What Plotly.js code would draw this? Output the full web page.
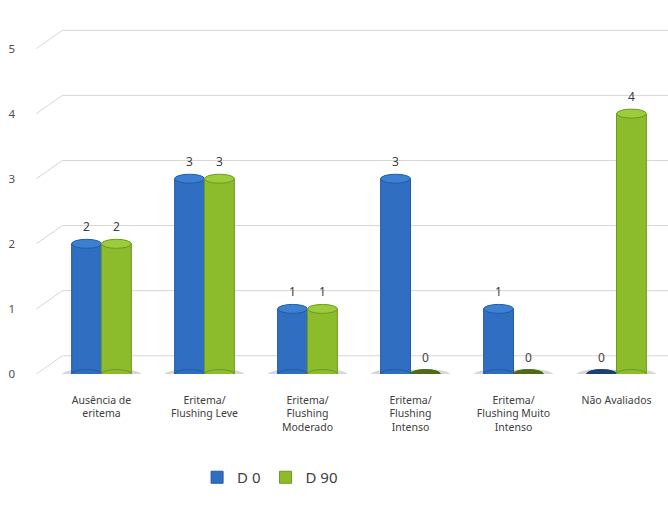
<!DOCTYPE html>
<html>
<head>
<meta charset="utf-8">
<script src="https://cdn.plot.ly/plotly-3.0.1.min.js"></script>
<style>html,body{margin:0;padding:0;background:#fff;}#chart{width:668px;height:507px;}</style>
</head>
<body>
<div id="chart"></div>
<script>
const categories = ['Ausência de<br>eritema', 'Eritema/<br>Flushing Leve', 'Eritema/<br>Flushing<br>Moderado', 'Eritema/<br>Flushing<br>Intenso', 'Eritema/<br>Flushing Muito<br>Intenso', 'Não Avaliados'];
const seriesNames = ['D 0', 'D 90'];
const d0 = [2, 3, 1, 3, 1, 0];
const d90 = [2, 3, 1, 0, 0, 4];
const yTicks = [0, 1, 2, 3, 4, 5];

const series = [d0, d90];
const barColors = ['#2F6EC0', '#8CBB2C'];
const lineColors = ['#245AA2', '#6E9A1C'];
const capColors = ['#3D80D2', '#9CCB3C'];
const zeroCapColors = ['#1E3F72', '#4F6A17'];

const bargap = 0.42;
const barW = (1 - bargap) / 2;
const offsets = [-barW / 2, barW / 2];

const traces = series.map((vals, s) => ({
  type: 'bar',
  name: seriesNames[s],
  x: categories,
  y: vals,
  marker: {color: barColors[s], line: {color: lineColors[s], width: 1}},
  hoverinfo: 'skip'
}));

const shapes = [];
// 3D-style gridlines (back wall offset)
const backOff = 0.28;
yTicks.forEach(v => {
  shapes.push({
    type: 'path', xref: 'paper', yref: 'y', layer: 'below',
    path: `M -0.022,${v} L 0.02,${v + backOff} L 1,${v + backOff}`,
    line: {color: '#d6d6d6', width: 1}
  });
});
// floor front edge
shapes.push({type: 'line', xref: 'paper', yref: 'y', layer: 'below', x0: -0.02, x1: 1, y0: -0.06, y1: -0.06, line: {color: '#e2e2e2', width: 1}});

const annotations = [];
series.forEach((vals, s) => {
  vals.forEach((v, i) => {
    const xc = i + offsets[s];
    // shadow on floor
    shapes.push({type: 'circle', xref: 'x', yref: 'y', layer: 'below',
      x0: xc - barW * 0.85, x1: xc + barW * 0.85,
      ysizemode: 'pixel', yanchor: 0, y0: -7, y1: 5,
      fillcolor: 'rgba(110,110,110,0.28)', line: {width: 0}});
    // bottom ellipse
    if (v > 0) {
      shapes.push({type: 'circle', xref: 'x', yref: 'y', layer: 'above',
        x0: xc - barW / 2, x1: xc + barW / 2,
        ysizemode: 'pixel', yanchor: 0, y0: -4.5, y1: 4.5,
        fillcolor: barColors[s], line: {color: lineColors[s], width: 1}});
    }
    // top cap
    shapes.push({type: 'circle', xref: 'x', yref: 'y', layer: 'above',
      x0: xc - barW / 2, x1: xc + barW / 2,
      ysizemode: 'pixel', yanchor: v, y0: -4.5, y1: 4.5,
      fillcolor: v > 0 ? capColors[s] : zeroCapColors[s],
      line: {color: v > 0 ? lineColors[s] : zeroCapColors[s], width: 1}});
    annotations.push({xref: 'x', yref: 'y', x: xc, y: v, yshift: 17,
      text: String(v), showarrow: false,
      font: {family: 'Noto Sans, sans-serif', size: 12, color: '#404040'}});
  });
});

const layout = {
  width: 668, height: 507,
  margin: {l: 50, r: 0, t: 29, b: 133},
  paper_bgcolor: '#ffffff', plot_bgcolor: 'rgba(0,0,0,0)',
  barmode: 'group', bargap: bargap, bargroupgap: 0,
  showlegend: true,
  legend: {orientation: 'h', x: 0.238, xanchor: 'left', y: -0.3, yanchor: 'middle',
    font: {family: 'Noto Sans, sans-serif', size: 15, color: '#404040'}},
  xaxis: {type: 'category', range: [-0.5, 5.5], showgrid: false, showline: false, zeroline: false,
    ticks: '', ticklabelstandoff: 18,
    tickfont: {family: 'Noto Sans, sans-serif', size: 10.5, color: '#404040'}},
  yaxis: {range: [0, 5.3], tickvals: yTicks, showgrid: false, zeroline: false, showline: false,
    ticks: '', ticklabelstandoff: 34,
    tickfont: {family: 'Noto Sans, sans-serif', size: 11.5, color: '#505050'}},
  shapes: shapes,
  annotations: annotations
};

Plotly.newPlot('chart', traces, layout, {displayModeBar: false, staticPlot: true});
</script>
</body>
</html>
